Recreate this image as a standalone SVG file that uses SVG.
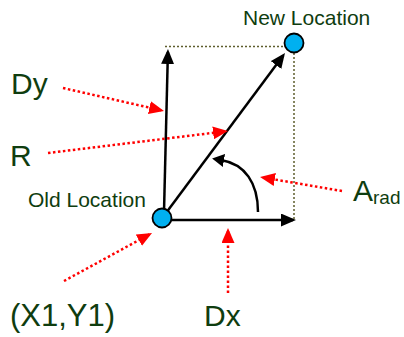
<svg xmlns="http://www.w3.org/2000/svg" width="404" height="337" viewBox="0 0 404 337">
<style>
text{font-family:"Liberation Sans",Arial,sans-serif;fill:#0f3d0f}
.big{font-size:30px}
.small{font-size:21px}
.blk{stroke:#000;stroke-width:2.5;fill:none}
.red{stroke:#f00;stroke-width:2.5;stroke-dasharray:2.5 2.5;fill:none}
.guide{stroke:#5e5e2c;stroke-width:1.5;stroke-dasharray:2 2;fill:none}
.pt{fill:#00b0f0;stroke:#000;stroke-width:1.8}
</style>
<defs>
<marker id="ab" viewBox="0 0 15 13" refX="12" refY="6.5" markerWidth="15" markerHeight="13" markerUnits="userSpaceOnUse" orient="auto"><path d="M0,0L15,6.5L0,13z" fill="#000"/></marker>
<marker id="as" viewBox="0 0 12 13" refX="3" refY="6.5" markerWidth="12" markerHeight="13" markerUnits="userSpaceOnUse" orient="auto"><path d="M0,0L12,6.5L0,13z" fill="#000"/></marker>
<marker id="ar" viewBox="0 0 15 13" refX="12" refY="6.5" markerWidth="15" markerHeight="13" markerUnits="userSpaceOnUse" orient="auto"><path d="M0,0L15,6.5L0,13z" fill="#f00"/></marker>
</defs>
<g id="connectors">
<path class="guide" d="M165,46.5H285M294,53V220"/>
<path class="blk" d="M164,212L167.9,52" marker-end="url(#ab)"/>
<path class="blk" d="M166,213L283.2,55.4" marker-end="url(#ab)"/>
<path class="blk" d="M170,220H293" marker-end="url(#ab)"/>
<path class="blk" d="M258,212C258,183 245,164 221,160" marker-end="url(#as)"/>
<path class="red" d="M63,88L161.1,110.3" marker-end="url(#ar)"/>
<path class="red" d="M48,153L225,131.4" marker-end="url(#ar)"/>
<path class="red" d="M342,191L263,177.5" marker-end="url(#ar)"/>
<path class="red" d="M64,281L149.4,234.4" marker-end="url(#ar)"/>
<path class="red" d="M228,293V231" marker-end="url(#ar)"/>
</g>
<g id="old-location">
<circle class="pt" cx="162" cy="218" r="9.5"/>
<text class="small" x="28" y="207">Old Location</text>
</g>
<g id="new-location">
<circle class="pt" cx="294" cy="43" r="9.5"/>
<text class="small" x="243" y="25">New Location</text>
</g>
<g id="label-dy"><text class="big" x="11" y="94">Dy</text></g>
<g id="label-r"><text class="big" x="10" y="166">R</text></g>
<g id="label-arad"><text class="big" x="353" y="201">A<tspan font-size="19" dy="3">rad</tspan></text></g>
<g id="label-xy"><text class="big" x="10" y="326" style="font-size:31px">(X1,Y1)</text></g>
<g id="label-dx"><text class="big" x="204" y="326">Dx</text></g>
</svg>
